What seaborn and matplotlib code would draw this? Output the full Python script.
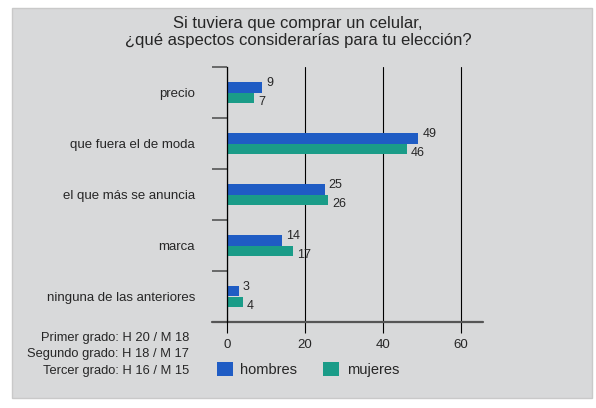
import pandas as pd
import matplotlib.pyplot as plt
import seaborn as sns
from matplotlib.patches import Rectangle

# data
aspectos = ["precio", "que fuera el de moda", "el que más se anuncia", "marca", "ninguna de las anteriores"]
hombres = [9, 49, 25, 14, 3]
mujeres = [7, 46, 26, 17, 4]
grados = ["Primer grado: H 20 / M 18", "Segundo grado: H 18 / M 17", "Tercer grado: H 16 / M 15"]
titulo = "Si tuviera que comprar un celular,\n¿qué aspectos considerarías para tu elección?"

df = pd.DataFrame({
    "aspecto": aspectos * 2,
    "valor": hombres + mujeres,
    "sexo": ["hombres"] * len(aspectos) + ["mujeres"] * len(aspectos),
})

sns.set_style("white")
plt.rcParams['font.family'] = ['Liberation Sans', 'DejaVu Sans']

fig = plt.figure(figsize=(5.96, 4.08), dpi=100)
fig.patch.set_facecolor("white")
# gray panel behind everything
fig.patches.append(Rectangle((12/596, 10/408), 580/596, 390/408, transform=fig.transFigure,
                             facecolor="#d8d9da", edgecolor="#c9c9c9", lw=1, zorder=-10))

ax = fig.add_axes([227/596, 1 - 322/408, (483 - 227)/596, (322 - 67)/408])
ax.set_facecolor("none")

sns.barplot(data=df, y="aspecto", x="valor", hue="sexo", orient="h", width=0.4,
            palette=["#1f5cc4", "#1a9c88"], saturation=1, linewidth=0, edgecolor="none",
            ax=ax, legend=True)

ax.set_xlim(0, 65.6)
ax.set_ylim(4.5, -0.5)
ax.set_xticks([0, 20, 40, 60])
ax.set_xlabel("")
ax.set_ylabel("")

# vertical gridlines
ax.xaxis.grid(True, color="black", lw=0.8)
ax.set_axisbelow(True)
ax.tick_params(axis="x", length=8, width=0.8, color="black", labelsize=9.5, pad=4, bottom=True)

# category separators on the left
ax.set_yticks([i - 0.5 for i in range(len(aspectos) + 1)], minor=True)
ax.tick_params(axis="y", which="major", length=0, pad=23, labelsize=9.5)
ax.tick_params(axis="y", which="minor", length=11, width=1.2, color="#555555", left=True)

for s in ["top", "right", "bottom"]:
    ax.spines[s].set_visible(False)
ax.spines["left"].set_color("black")
ax.spines["left"].set_linewidth(0.9)
ax.plot([-3.8, 65.6], [0, 0], transform=ax.get_xaxis_transform(), clip_on=False,
        color="#555555", lw=1.6)

# value labels
for cont, dy in zip(ax.containers, [3, -3]):
    anns = ax.bar_label(cont, padding=3, fontsize=9)
    for a in anns:
        a.xyann = (a.xyann[0], dy)

# legend below the axis
leg = ax.legend(loc="center left", bbox_to_anchor=(-0.04, -0.188), ncol=2, frameon=False,
                borderpad=0, borderaxespad=0, handlelength=1.1, handleheight=1.1,
                columnspacing=1.8, handletextpad=0.5, fontsize=10.5)

fig.text(298/596, 1 - 32/408, titulo, ha="center", va="center", fontsize=12, linespacing=1.2)

for i, g in enumerate(grados):
    fig.text(189/596, 1 - (338 + 16.5*i)/408, g, ha="right", va="center", fontsize=9.3)

fig.savefig("out.png", dpi=100)
